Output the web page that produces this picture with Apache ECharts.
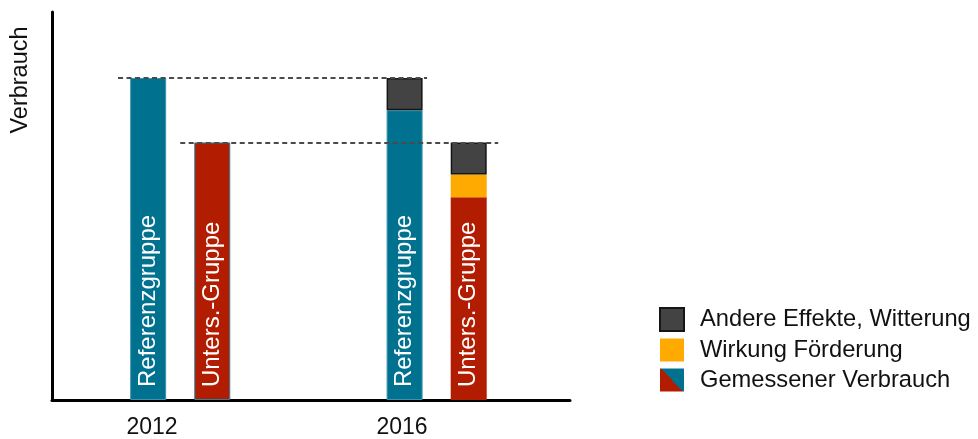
<!DOCTYPE html>
<html>
<head>
<meta charset="utf-8">
<script src="https://cdn.jsdelivr.net/npm/echarts@6/dist/echarts.min.js"></script>
<style>
html,body{margin:0;padding:0;background:#fff;}
#c{width:978px;height:439px;}
</style>
</head>
<body>
<div id="c"></div>
<script>
// ---- data ----
const years = ['2012', '2016'];
const groups = ['Referenzgruppe', 'Unters.-Gruppe'];
// order: 2012 Ref, 2012 Unters, 2016 Ref, 2016 Unters
const measured = [100, 80, 90, 63];
const funding = [null, null, null, 7];
const otherEffects = [null, null, 10, 10];
const legendNames = ['Andere Effekte, Witterung', 'Wirkung Förderung', 'Gemessener Verbrauch'];

// ---- layout helpers ----
const FONT = '"Liberation Sans", Arial, Helvetica, sans-serif';
const TEAL = '#00718f', RED = '#b21c00', ORANGE = '#ffaa00', GRAY = '#434343';
const pos = [];
years.forEach((y, yi) => groups.forEach((g, gi) => pos.push(yi * 4 + gi + 1.5)));
const groupOf = i => i % 2;
const yearOf = i => Math.floor(i / 2);
const total = i => (measured[i] || 0) + (funding[i] || 0) + (otherEffects[i] || 0);

// value first, position second (encode maps them) so stacking happens on the value dimension
const toData = (arr) => arr.map((v, i) => [v == null ? '-' : v, pos[i]]);
const ENC = { x: 1, y: 0 };

const chart = echarts.init(document.getElementById('c'));
chart.setOption({
  animation: false,
  grid: { left: 52, top: 12, bottom: 39, right: 408, containLabel: false },
  xAxis: {
    type: 'value', min: 0, max: 8.08,
    axisLine: { show: true, onZero: false, lineStyle: { color: '#000', width: 3 } },
    axisTick: { show: false },
    splitLine: { show: false },
    axisLabel: {
      customValues: [pos[0] + 0.06, pos[2] - 0.04],
      formatter: v => years[v < 4 ? 0 : 1],
      color: '#111', fontSize: 23, fontFamily: FONT, margin: 16
    }
  },
  yAxis: {
    type: 'value', min: 0, max: 120.5,
    axisLine: { show: true, lineStyle: { color: '#000', width: 3 } },
    axisTick: { show: false },
    axisLabel: { show: false },
    splitLine: { show: false }
  },
  legend: {
    orient: 'vertical', left: 659, top: 307, padding: 0,
    itemWidth: 24, itemHeight: 23, itemGap: 6,
    icon: 'rect',
    textStyle: { color: '#111', fontSize: 23.7, lineHeight: 23, fontFamily: FONT, padding: [0, 0, 0, 11] },
    data: [
      { name: legendNames[0] },
      { name: legendNames[1] },
      { name: legendNames[2], itemStyle: {
          borderWidth: 0,
          color: { type: 'linear', x: 0, y: 1, x2: 1, y2: 0, colorStops: [
            { offset: 0, color: RED }, { offset: 0.5, color: RED },
            { offset: 0.5, color: TEAL }, { offset: 1, color: TEAL }] }
        } }
    ]
  },
  graphic: [{
    type: 'text', x: 21, y: 80, rotation: Math.PI / 2,
    style: { text: 'Verbrauch', fontSize: 23.5, fontFamily: FONT, fill: '#111',
      align: 'center', verticalAlign: 'middle' }
  }],
  series: [
    {
      name: legendNames[2], type: 'bar', stack: 's', barWidth: 36, encode: ENC,
      data: measured.map((v, i) => ({
        value: [v, pos[i]],
        itemStyle: groupOf(i) === 0
          ? { color: TEAL, borderColor: '#3c95ae', borderWidth: 1 }
          : (yearOf(i) === 0 ? { color: RED, borderColor: '#2f7f98', borderWidth: 1 } : { color: RED, borderWidth: 0 })
      })),
      label: {
        show: true, position: 'insideBottom', rotate: 90, align: 'left', verticalAlign: 'middle',
        distance: 13, color: '#fff', fontSize: 24, fontFamily: FONT,
        formatter: p => groups[groupOf(p.dataIndex)]
      }
    },
    {
      name: legendNames[1], type: 'bar', stack: 's', barWidth: 36, encode: ENC,
      itemStyle: { color: ORANGE },
      data: toData(funding)
    },
    {
      name: legendNames[0], type: 'bar', stack: 's', barWidth: 36, encode: ENC,
      itemStyle: { color: GRAY, borderColor: '#151515', borderWidth: 1.5 },
      data: toData(otherEffects),
      markLine: {
        silent: true, symbol: ['none', 'none'],
        label: { show: false },
        lineStyle: { color: '#4a4a4a', width: 2, type: [5, 3.5] },
        data: [
          [{ coord: [pos[0] - 0.47, total(0)] }, { coord: [pos[2] + 0.35, total(0)] }],
          [{ coord: [pos[1] - 0.5, total(1)] }, { coord: [pos[3] + 0.46, total(1)] }]
        ]
      }
    }
  ]
});
</script>
</body>
</html>
